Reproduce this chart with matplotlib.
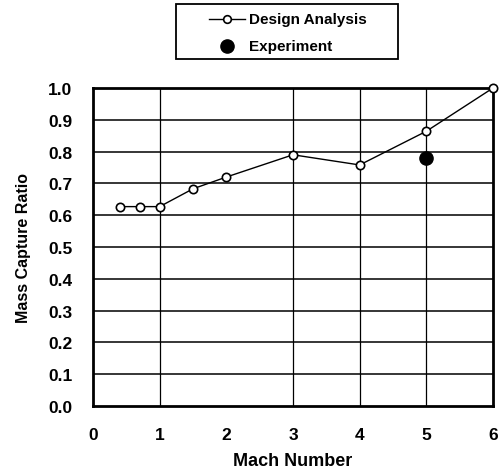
import matplotlib
matplotlib.use("Agg")
import matplotlib.pyplot as plt
from matplotlib.lines import Line2D
from matplotlib.patches import Rectangle

mach = [0.4, 0.7, 1.0, 1.5, 2.0, 3.0, 4.0, 5.0, 6.0]
design_ratio = [0.627, 0.627, 0.627, 0.683, 0.72, 0.79, 0.758, 0.864, 1.0]
exp_mach = [5.0]
exp_ratio = [0.78]
xticks = [0, 1, 2, 3, 4, 5, 6]
yticks = [0.0, 0.1, 0.2, 0.3, 0.4, 0.5, 0.6, 0.7, 0.8, 0.9, 1.0]
vgrid = [1, 3, 4, 5]
legend_labels = ['Design Analysis', 'Experiment']

plt.rcParams['font.family'] = ['Liberation Sans', 'DejaVu Sans']
W, H = 500, 477
fig = plt.figure(figsize=(W / 100, H / 100), dpi=100)
ax = fig.add_axes([93 / W, 1 - 407 / H, 400 / W, 318 / H])

ax.set_xlim(0, 6)
ax.set_ylim(0, 1.0)
for y in yticks[1:-1]:
    ax.axhline(y, color='black', lw=1.1, zorder=1)
for x in vgrid:
    ax.axvline(x, color='black', lw=0.9, zorder=1)

ax.plot(mach, design_ratio, '-', color='black', lw=1.0, marker='o', ms=6,
        mfc='white', mec='black', mew=1.2, zorder=3, clip_on=False)
ax.plot(exp_mach, exp_ratio, 'o', color='black', ms=9.5, zorder=4)

ax.set_xticks(xticks)
ax.set_yticks(yticks)
ax.set_xticklabels([str(v) for v in xticks], fontsize=12.5, fontweight='bold')
ax.set_yticklabels([f"{v:.1f}" for v in yticks], fontsize=12.5, fontweight='bold')
ax.tick_params(length=0)
ax.tick_params(axis='y', pad=15)
ax.tick_params(axis='x', pad=15)
for s in ax.spines.values():
    s.set_linewidth(2.0)

ax.set_xlabel('Mach Number', fontsize=13, fontweight='bold')
ax.set_ylabel('Mass Capture Ratio', fontsize=11.5, fontweight='bold')
ax.xaxis.set_label_coords(0.5, -0.145)
ax.yaxis.set_label_coords(-0.155, 0.5)

# manual legend box
def fx(px):
    return px / W

def fy(py):
    return 1 - py / H

fig.patches.append(Rectangle((fx(176), fy(60)), fx(398) - fx(176), fy(5) - fy(60),
                             transform=fig.transFigure, fill=False, edgecolor='black', lw=1.3))
row_y = [20, 47]
fig.lines.append(Line2D([fx(209), fx(245)], [fy(row_y[0])] * 2, transform=fig.transFigure,
                        color='black', lw=1.0))
fig.lines.append(Line2D([fx(227)], [fy(row_y[0])], transform=fig.transFigure,
                        marker='o', ms=5.5, mfc='white', mec='black', mew=1.2, lw=0))
fig.lines.append(Line2D([fx(227)], [fy(row_y[1])], transform=fig.transFigure,
                        marker='o', ms=9.5, color='black', lw=0))
for lab, ry in zip(legend_labels, row_y):
    fig.text(fx(249), fy(ry), lab, fontsize=11, fontweight='bold', ha='left', va='center')

fig.savefig('out.png', dpi=100)
